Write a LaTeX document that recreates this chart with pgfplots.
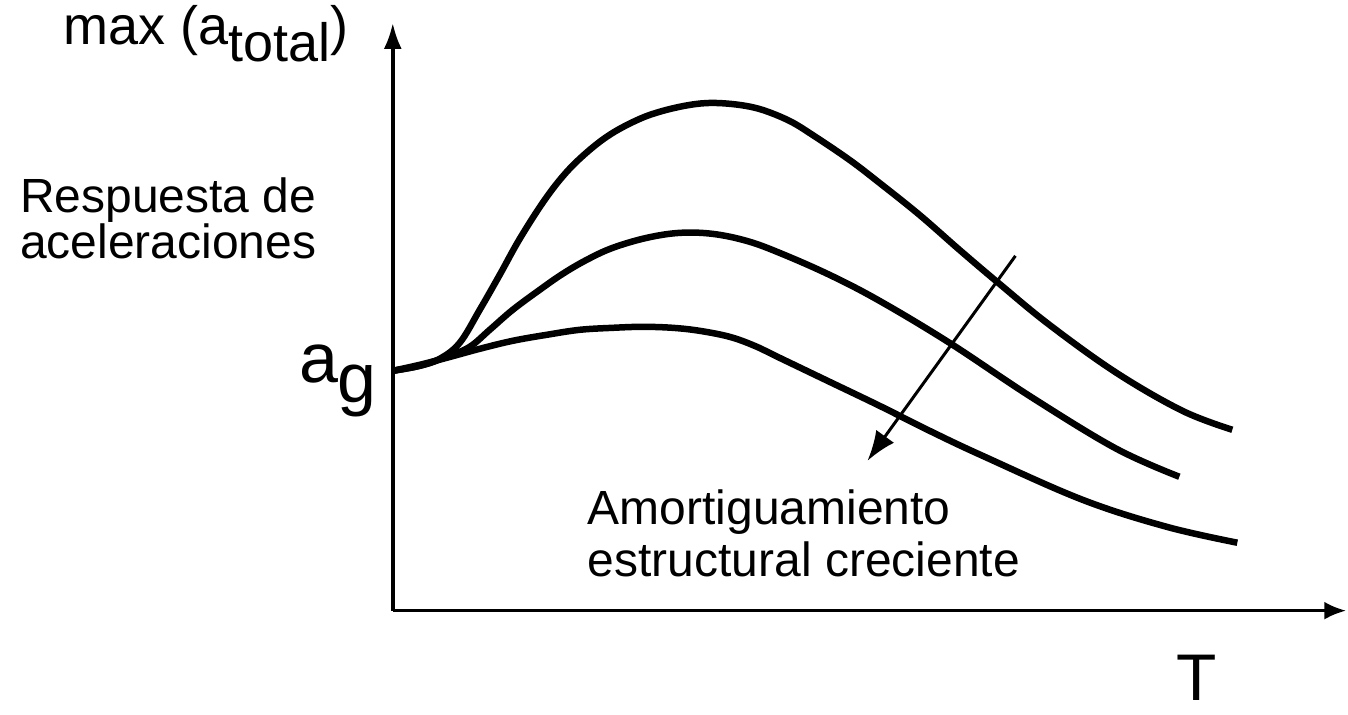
\documentclass[border=0pt]{standalone}
\usepackage{fontspec}
\setmainfont{Liberation Sans}
\usepackage{pgfplots}
\pgfplotsset{compat=1.18}
\usetikzlibrary{arrows.meta}

\begin{document}
\begin{tikzpicture}
\begin{axis}[
  scale only axis, width=954pt, height=588pt,
  xmin=393, xmax=1347, ymin=104, ymax=692,
  axis lines=left,
  x axis line style={line width=3.5pt, -{Latex[length=22pt,width=18pt]}},
  y axis line style={line width=3.5pt, -{Latex[length=26pt,width=18pt]}},
  xtick=\empty, ytick=\empty,
  clip=false,
]
\path (axis cs:0,0) rectangle (axis cs:1348,715);
% top curve (lowest damping)
\addplot[black, line width=6.5pt, smooth, tension=0.6] coordinates {
 (393,344) (420,349) (440,356) (460,372) (480,405) (500,440) (520,476)
 (545,515) (567,543) (590,565) (613,582) (640,596) (663,604) (690,610)
 (713,612) (740,610) (763,605) (790,594) (813,580) (850,555) (880,532)
 (920,500) (960,465) (1000,431) (1050,390) (1117,342) (1183,304) (1233,285)
};
% middle curve
\addplot[black, line width=6.5pt, smooth, tension=0.6] coordinates {
 (393,344) (420,349) (447,358) (470,368) (490,385) (513,405) (540,425)
 (563,441) (587,455) (613,467) (647,477) (680,482) (713,481) (747,474)
 (780,462) (830,440) (880,414) (950,372) (1033,317) (1117,266) (1180,238)
};
% bottom curve (highest damping)
\addplot[black, line width=6.5pt, smooth, tension=0.6] coordinates {
 (393,344) (420,350) (447,357) (480,366) (513,374) (547,380) (580,385)
 (613,387) (643,388) (673,387) (700,384) (730,378) (755,369) (780,357)
 (830,333) (880,309) (930,284) (983,259) (1083,215) (1167,188) (1238,172)
};
% increasing damping arrow
\addplot[black, line width=3pt, -{Latex[length=30pt,width=22pt]}] coordinates {
 (1016,459) (868,254)
};
\node[anchor=base west, inner sep=0, font=\fontsize{54}{60}\selectfont]
  at (axis cs:63,670) {max (a\raisebox{-17pt}{total})};
\node[anchor=base west, inner sep=0, font=\fontsize{48}{58}\selectfont]
  at (axis cs:20,502) {Respuesta de};
\node[anchor=base west, inner sep=0, font=\fontsize{48}{58}\selectfont]
  at (axis cs:20,456) {aceleraciones};
\node[anchor=base west, inner sep=0, font=\fontsize{70}{74}\selectfont]
  at (axis cs:299,332) {a\raisebox{-20pt}{g}};
\node[anchor=base west, inner sep=0, font=\fontsize{48}{58}\selectfont]
  at (axis cs:588,190) {Amortiguamiento};
\node[anchor=base west, inner sep=0, font=\fontsize{48}{58}\selectfont]
  at (axis cs:588,138) {estructural creciente};
\node[anchor=base west, inner sep=0, font=\fontsize{66}{70}\selectfont]
  at (axis cs:1177,14) {T};
\end{axis}
\end{tikzpicture}
\end{document}
